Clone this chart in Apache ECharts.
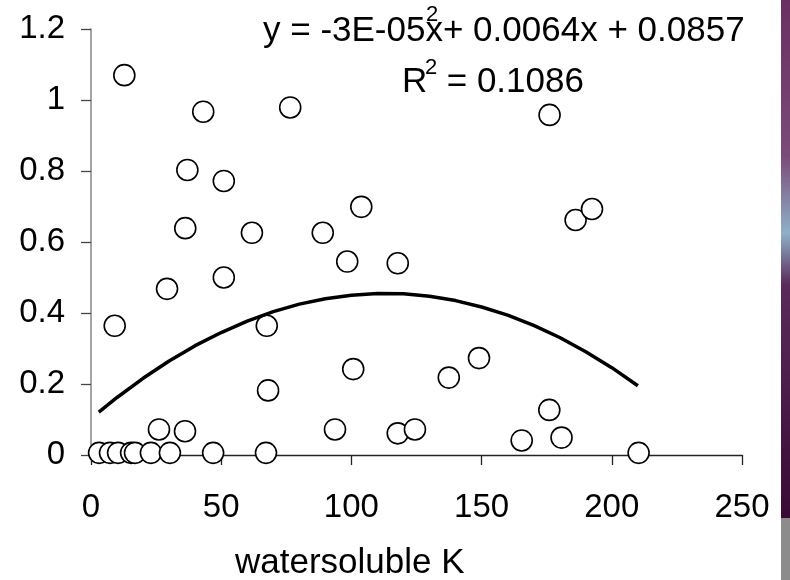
<!DOCTYPE html>
<html>
<head>
<meta charset="utf-8">
<script src="https://cdn.jsdelivr.net/npm/echarts@6/dist/echarts.min.js"></script>
<style>
  html, body { margin: 0; padding: 0; background: #fff; }
  #chart { width: 790px; height: 580px; }
</style>
</head>
<body>
<div id="chart"></div>
<script>
var pointsX = [12.8, 43.1, 76.5, 37.0, 51.0, 103.8, 36.2, 61.8, 89.0, 98.4, 117.8,
  176.1, 186.1, 192.4, 9.1, 29.2, 51.0, 67.5, 68.0, 100.7, 26.1, 36.1, 93.7, 117.8, 124.4,
  3.1, 7.3, 10.4, 15.4, 16.9, 23.0, 30.3, 46.9, 67.2,
  137.4, 149.0, 176.0, 165.4, 180.7, 210.3]
var pointsY = [1.07, 0.967, 0.979, 0.803, 0.772, 0.699, 0.639, 0.626, 0.626, 0.545, 0.54,
  0.958, 0.662, 0.693, 0.364, 0.468, 0.5, 0.364, 0.182, 0.242, 0.072, 0.067, 0.072, 0.061, 0.072,
  0.006, 0.006, 0.006, 0.006, 0.006, 0.006, 0.006, 0.006, 0.006,
  0.218, 0.273, 0.127, 0.041, 0.049, 0.006]

// polynomial trend line as drawn
var trendX = [3, 10, 20, 30, 40, 50, 60, 70, 80, 90, 100, 110, 120, 130, 140, 150, 160, 170, 180, 190, 200, 210]
var trendY = [0.121, 0.162, 0.216, 0.265, 0.308, 0.345, 0.377, 0.404, 0.425, 0.44, 0.45, 0.455,
  0.454, 0.447, 0.435, 0.417, 0.394, 0.365, 0.331, 0.291, 0.246, 0.195]

var xTicks = { min: 0, max: 250, interval: 50 }
var yTicks = { min: 0, max: 1.2, interval: 0.2 }

var FONT = '"Liberation Sans", Arial, sans-serif'

function zip(xs, ys) {
  return xs.map(function (x, i) { return [x, ys[i]] })
}

var chart = echarts.init(document.getElementById('chart'))
chart.setOption({
  animation: false,
  backgroundColor: '#fff',
  grid: { left: 91, right: 48, top: 29, bottom: 125 },
  xAxis: {
    type: 'value',
    min: xTicks.min,
    max: xTicks.max,
    interval: xTicks.interval,
    axisLine: { show: true, onZero: false, lineStyle: { color: '#222', width: 1.3 } },
    axisTick: { show: true, length: 10, lineStyle: { color: '#222', width: 1.3 } },
    axisLabel: { color: '#000', fontSize: 33, fontFamily: FONT, margin: 36 },
    splitLine: { show: false }
  },
  yAxis: {
    type: 'value',
    min: yTicks.min,
    max: yTicks.max,
    interval: yTicks.interval,
    axisLine: { show: true, lineStyle: { color: '#868686', width: 1.5 } },
    axisTick: { show: true, length: 10, lineStyle: { color: '#444', width: 1.3 } },
    axisLabel: { color: '#000', fontSize: 33, fontFamily: FONT, margin: 26 },
    splitLine: { show: false }
  },
  series: [
    {
      type: 'scatter',
      data: zip(pointsX, pointsY),
      symbol: 'circle',
      symbolSize: 21,
      itemStyle: { color: '#fff', borderColor: '#000', borderWidth: 1.6, opacity: 1 },
      z: 2
    },
    {
      type: 'line',
      data: zip(trendX, trendY),
      showSymbol: false,
      smooth: false,
      lineStyle: { color: '#000', width: 3.5 },
      z: 3
    }
  ],
  graphic: [
    {
      type: 'text', left: 263, top: 14,
      style: { text: 'y = -3E-05x+ 0.0064x + 0.0857', font: '35px ' + FONT, fill: '#000' }
    },
    {
      type: 'text', left: 426, top: 4,
      style: { text: '2', font: '22px ' + FONT, fill: '#000' }
    },
    {
      type: 'text', left: 402, top: 65,
      style: { text: 'R  = 0.1086', font: '35px ' + FONT, fill: '#000' }
    },
    {
      type: 'text', left: 425, top: 57,
      style: { text: '2', font: '22px ' + FONT, fill: '#000' }
    },
    {
      type: 'text', left: 235, top: 546,
      style: { text: 'watersoluble K', font: '35px ' + FONT, fill: '#000' }
    },
    {
      type: 'rect', shape: { x: 781, y: 0, width: 9, height: 518 },
      style: {
        fill: new echarts.graphic.LinearGradient(0, 0, 0, 1, [
          { offset: 0, color: '#6a2f62' },
          { offset: 0.3, color: '#7a4a78' },
          { offset: 0.45, color: '#8fb0c8' },
          { offset: 0.55, color: '#5a2a5a' },
          { offset: 1, color: '#3a0a36' }
        ])
      }
    },
    {
      type: 'rect', shape: { x: 781, y: 518, width: 9, height: 62 },
      style: { fill: '#8c8c8c' }
    }
  ]
})
</script>
</body>
</html>
